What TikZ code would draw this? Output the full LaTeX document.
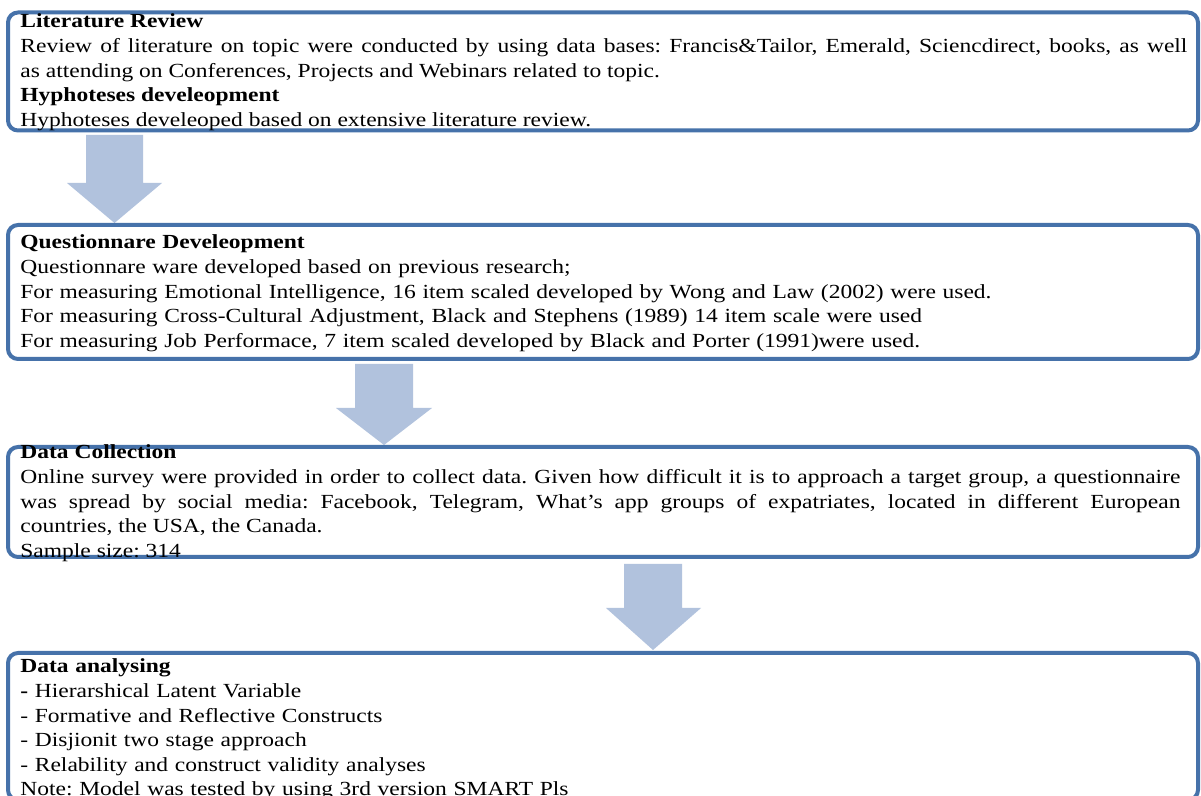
\documentclass[tikz,border=0pt]{standalone}
\usepackage{fontspec}
\setmainfont{Liberation Serif}[FakeStretch=1.175]
\definecolor{boxblue}{RGB}{70,114,170}
\definecolor{arrowblue}{RGB}{177,194,221}
\frenchspacing
\begin{document}
\begin{tikzpicture}[x=0.5pt,y=-0.5pt,
  stagebox/.style={draw=boxblue, line width=2pt, rounded corners=5pt, fill=white},
  blockarrow/.style={fill=arrowblue, draw=none},
  txt/.style={anchor=base west, inner sep=0pt, align=justify,
    font=\fontsize{10pt}{12.3pt}\selectfont},
  txtl/.style={anchor=base west, inner sep=0pt, align=left,
    font=\fontsize{10pt}{12.3pt}\selectfont}]
\useasboundingbox (0,0) rectangle (1201,796);
\clip (0,0) rectangle (1201,796);
\fill[white] (0,0) rectangle (1201,796);
% block arrows
\fill[blockarrow] (86,135) -- (143,135) -- (143,183) -- (162,183) -- (114.5,223) -- (67,183) -- (86,183) -- cycle;
\fill[blockarrow] (355,364) -- (413,364) -- (413,408) -- (432,408) -- (384,445) -- (336,408) -- (355,408) -- cycle;
\fill[blockarrow] (624,564) -- (682,564) -- (682,608) -- (701,608) -- (653,650) -- (606,608) -- (624,608) -- cycle;
% boxes
\draw[stagebox] (8,12.5) rectangle (1198,130.5);
\draw[stagebox] (8,225) rectangle (1198,359);
\draw[stagebox] (8,447) rectangle (1198,557);
\draw[stagebox] (8,653) rectangle (1198,800);
% texts
\node[txt, text width=583.5pt] (t1) at (20,28) {\textbf{Literature Review}\\
Review of literature on topic were conducted by using data bases: Francis\&Tailor, Emerald, Sciencdirect, books, as well\linebreak as attending on Conferences, Projects and Webinars related to topic.\\
\textbf{Hyphoteses develeopment}\\
Hyphoteses develeoped based on extensive literature review.};
\node[txtl, text width=583.5pt] (t2) at (20,249) {\textbf{Questionnare Develeopment}\\
Questionnare ware developed based on previous research;\\
For measuring Emotional Intelligence, 16 item scaled developed by Wong and Law (2002) were used.\\
For measuring Cross-Cultural Adjustment, Black and Stephens (1989) 14 item scale were used\\
For measuring Job Performace, 7 item scaled developed by Black and Porter (1991)were used.};
\node[txt, text width=580pt] (t3) at (20,459) {\textbf{Data Collection}\\
Online survey were provided in order to collect data. Given how difficult it is to approach a target group, a questionnaire\linebreak was spread by social media: Facebook, Telegram, What’s app groups of expatriates, located in different European\linebreak countries, the USA, the Canada.\\
Sample size: 314};
\node[txtl, text width=583.5pt] (t4) at (20,673) {\textbf{Data analysing}\\
\textbf{-} Hierarshical Latent Variable\\
- Formative and Reflective Constructs\\
- Disjionit two stage approach\\
- Relability and construct validity analyses\\
Note: Model was tested by using 3rd version SMART Pls};
\end{tikzpicture}
\end{document}
